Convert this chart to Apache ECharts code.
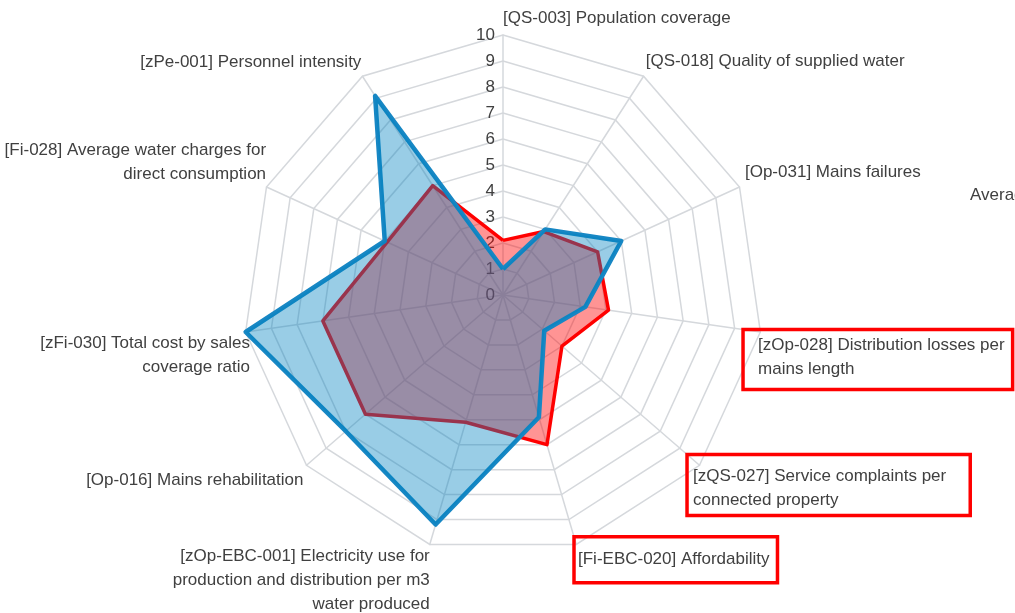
<!DOCTYPE html>
<html>
<head>
<meta charset="utf-8">
<script src="https://cdn.jsdelivr.net/npm/echarts@6/dist/echarts.min.js"></script>
<style>
html,body{margin:0;padding:0;background:#fff;}
#chart{width:1015px;height:613px;}
</style>
</head>
<body>
<div id="chart"></div>
<script>
// Indicators, counter-clockwise from the top (ECharts radar order)
var indicatorNames = [
  '[QS-003] Population coverage',
  '[zPe-001] Personnel intensity',
  '[Fi-028] Average water charges for\ndirect consumption',
  '[zFi-030] Total cost by sales\ncoverage ratio',
  '[Op-016] Mains rehabilitation',
  '[zOp-EBC-001] Electricity use for\nproduction and distribution per m3\nwater produced',
  '[Fi-EBC-020] Affordability',
  '[zQS-027] Service complaints per\nconnected property',
  '[zOp-028] Distribution losses per\nmains length',
  '[Op-031] Mains failures',
  '[QS-018] Quality of supplied water'
];
var scaleMax = 10;
var tickLabels = ['0','1','2','3','4','5','6','7','8','9','10'];
var redValues  = [2.1, 5.0, 4.9, 7.0, 7.0, 5.1, 6.0, 3.0, 4.1, 4.0, 2.9];
var blueValues = [1.0, 9.1, 5.0, 10.0, 8.0, 9.2, 4.9, 2.1, 3.2, 5.0, 3.0];
var legendLabel = 'Average';

// label layout (styles only)
var nameLayout = [
  {gap: 5,   align: 'left',  va: 'bottom'},
  {gap: 2,   align: 'right', va: 'bottom'},
  {gap: 0.5, align: 'right', va: 'bottom'},
  {gap: -4.4, align: 'right', va: 'top'},
  {gap: 4,   align: 'right', va: 'top'},
  {gap: 0,   align: 'right', va: 'top'},
  {gap: -8,  align: 'left',  va: 'top', pad: [11,8,11,4], box: true},
  {gap: -16.5, align: 'left', va: 'top', pad: [10,24,3,6], box: true},
  {gap: -17.5, align: 'left', va: 'top', pad: [4,8,8,15], box: true},
  {gap: 6,   align: 'left',  va: 'bottom'},
  {gap: 4,   align: 'left',  va: 'bottom'}
];
var FONT = 'Liberation Sans, Arial, sans-serif';
var textColor = '#404040';

var indicators = indicatorNames.map(function (n, i) {
  var L = nameLayout[i];
  var st = {
    align: L.align,
    verticalAlign: L.va,
    color: textColor,
    fontSize: 17,
    lineHeight: 24,
    fontFamily: FONT
  };
  if (L.box) {
    st.padding = L.pad;
    st.borderColor = '#ff0000';
    st.borderWidth = 3.5;
  }
  var o = {name: n, min: 0, max: scaleMax, nameGap: L.gap, nameTextStyle: st};
  if (i === 0) {
    o.axisLabel = {show: true};
  }
  return o;
});

var chart = echarts.init(document.getElementById('chart'), null, {renderer: 'canvas'});
chart.setOption({
  animation: false,
  backgroundColor: '#ffffff',
  legend: {
    data: [legendLabel],
    left: 970,
    top: 187,
    padding: 0,
    align: 'right',
    itemGap: 10,
    textStyle: {color: textColor, fontSize: 17, fontFamily: FONT}
  },
  radar: {
    center: [503, 295],
    radius: 260,
    startAngle: 90,
    splitNumber: 10,
    shape: 'polygon',
    indicator: indicators,
    axisNameGap: 15,
    axisName: {
      color: textColor,
      fontSize: 17,
      lineHeight: 24,
      fontFamily: FONT
    },
    splitArea: {show: false},
    splitLine: {lineStyle: {color: '#d5d8dc', width: 1.5}},
    axisLine: {lineStyle: {color: '#d5d8dc', width: 1.5}},
    axisTick: {show: false},
    axisLabel: {
      show: false,
      color: textColor,
      fontSize: 17,
      margin: 8,
      fontFamily: FONT,
      formatter: function (v) { return tickLabels[Math.round(v)]; }
    }
  },
  series: [
    {
      type: 'radar',
      name: 'Utility',
      symbol: 'none',
      z: 2,
      lineStyle: {color: '#ff0000', width: 3.5},
      areaStyle: {color: 'rgba(255,0,0,0.42)', opacity: 1},
      itemStyle: {color: '#ff0000'},
      data: [{value: redValues, name: 'Utility'}]
    },
    {
      type: 'radar',
      name: legendLabel,
      symbol: 'none',
      z: 3,
      lineStyle: {color: '#1787c4', width: 4.5},
      areaStyle: {color: 'rgba(0,130,192,0.4)', opacity: 1},
      itemStyle: {color: '#1787c4'},
      data: [{value: blueValues, name: legendLabel}]
    }
  ]
});
</script>
</body>
</html>
